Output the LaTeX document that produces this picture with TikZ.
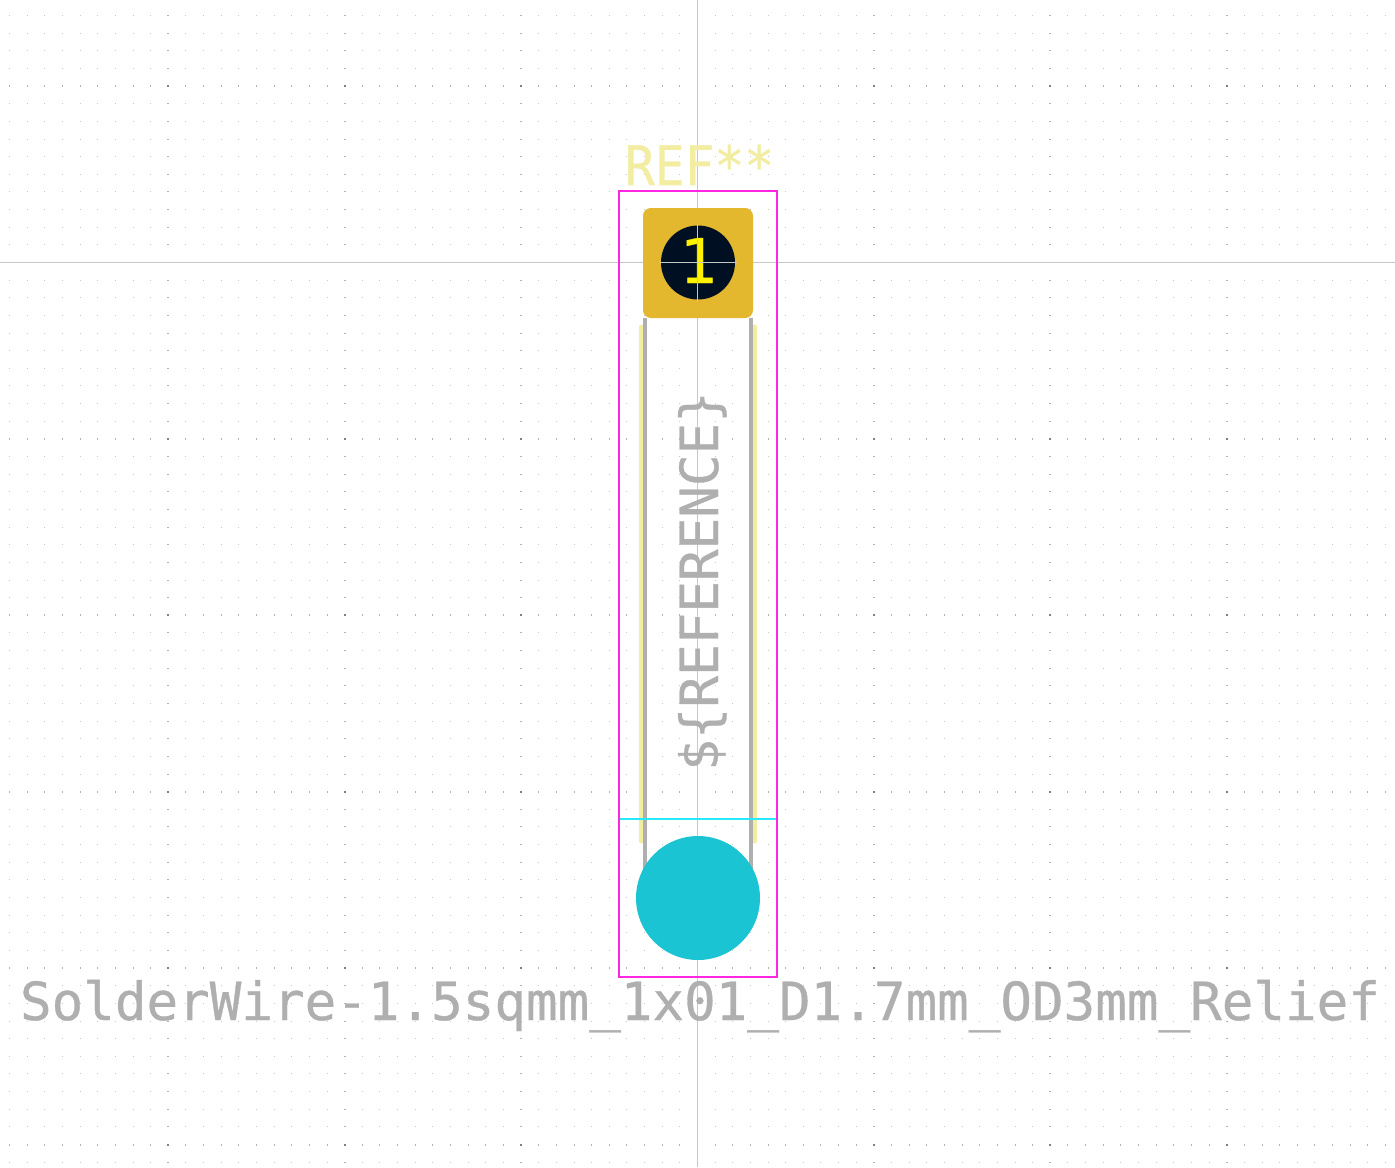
\documentclass[tikz,border=0pt]{standalone}
\usepackage{fontspec}
\setmainfont[FakeBold=0.6]{DejaVu Sans Mono}
\usepackage{tikz}
\definecolor{padcol}{HTML}{E3B72E}
\definecolor{holecol}{HTML}{001023}
\definecolor{silkcol}{HTML}{F2EDA1}
\definecolor{fabcol}{HTML}{AFAFAF}
\definecolor{crtcol}{HTML}{FF26E2}
\definecolor{cyancol}{HTML}{26E9FF}
\definecolor{tealcol}{HTML}{1AC4D2}
\tikzset{
    griddot/.style={fill=black!22},
    gridmid/.style={fill=black!30},
    gridbig/.style={fill=black!50},
    fabtext/.style={text=fabcol, font=\fontsize{29.9pt}{30pt}\selectfont, inner sep=0pt, anchor=base},
    silktext/.style={text=silkcol, font=\fontsize{31pt}{31pt}\selectfont, inner sep=0pt, anchor=base},
    fabline/.style={draw=fabcol, line width=2.6pt},
    silkline/.style={draw=silkcol, line width=2.8pt, line cap=round}
}

\begin{document}
\begin{tikzpicture}[x=0.02cm, y=-0.02cm]
    \useasboundingbox (0,0) rectangle (1395,1167);
    \fill[white] (0,0) rectangle (1395,1167);

    % Grid titik
    \foreach \i in {-39,...,39} {
        \foreach \j in {-14,...,51} {
            \fill[griddot] ({697.5+\i*17.64-0.5},{262.5+\j*17.64-0.5}) rectangle ++(1,1);
        }
    }
    % Baris dan kolom tebal
    \foreach \j in {-1,1,2,3,4,5} {
        \foreach \i in {-39,...,39} {
            \fill[gridmid] ({697.5+\i*17.64-0.5},{262.5+\j*176.4-1}) rectangle ++(1,2);
        }
    }
    \foreach \i in {-3,-2,-1,1,2,3} {
        \foreach \j in {-14,...,51} {
            \fill[gridmid] ({697.5+\i*176.4-1},{262.5+\j*17.64-0.5}) rectangle ++(2,1);
        }
    }
    \foreach \i in {-3,-2,-1,1,2,3} {
        \foreach \j in {-1,1,2,3,4,5} {
            \fill[gridbig] ({697.5+\i*176.4-1},{262.5+\j*176.4-1}) rectangle ++(2,2);
        }
    }

    % Garis sumbu
    \draw[black!22, line width=0.8pt] (697.5,0) -- (697.5,1167);
    \draw[black!22, line width=0.8pt] (0,262.5) -- (1395,262.5);

    % Garis silk dan fab
    \draw[silkline] (641.5,327) -- (641.5,841);
    \draw[silkline] (754.5,327) -- (754.5,841);
    \draw[fabline] (645,318) -- (645,880);
    \draw[fabline] (751,318) -- (751,880);

    % Courtyard
    \draw[crtcol, line width=1.4pt] (619,191) rectangle (777,977);
    \draw[cyancol, line width=1.2pt] (620,819) -- (776,819);

    % Pad dan lubang
    \fill[padcol, rounded corners=4.5pt] (643,208) rectangle (753,318);
    \node[circle, fill=holecol, minimum size=1.48cm, inner sep=0pt] (hole) at (698,262.5) {};
    \node[circle, fill=tealcol, minimum size=2.48cm, inner sep=0pt] (wire) at (698,898) {};

    % Label
    \node[text=yellow, font=\fontsize{35pt}{35pt}\selectfont, inner sep=0pt, anchor=base] (padnum) at (698,283) {1};
    \draw[black!22, line width=0.6pt] (697.5,224) -- (697.5,302);
    \draw[black!22, line width=0.6pt] (659,262.5) -- (737,262.5);
    \node[silktext, xscale=0.91] (ref) at (699.5,185) {REF**};
    \node[fabtext, rotate=90] (refval) at (718,581) {\$\{REFERENCE\}};
    \node[fabtext] (fpname) at (700,1020) {SolderWire-1.5sqmm\_1x01\_D1.7mm\_OD3mm\_Relief};
\end{tikzpicture}
\end{document}
